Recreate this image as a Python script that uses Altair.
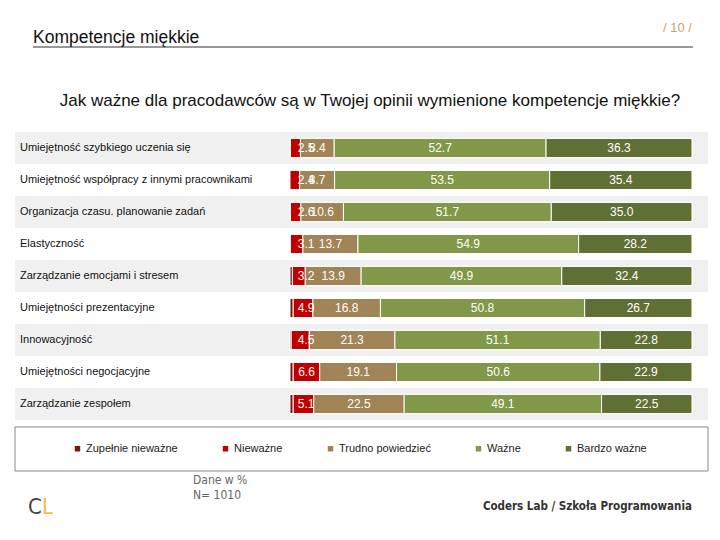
import altair as alt
import pandas as pd

categories = [
    "Umiejętność szybkiego uczenia się",
    "Umiejętność współpracy z innymi pracownikami",
    "Organizacja czasu. planowanie zadań",
    "Elastyczność",
    "Zarządzanie emocjami i stresem",
    "Umiejętności prezentacyjne",
    "Innowacyjność",
    "Umiejętności negocjacyjne",
    "Zarządzanie zespołem",
]
series = ["Zupełnie nieważne", "Nieważne", "Trudno powiedzieć", "Ważne", "Bardzo ważne"]
zupelnie = [0.1, 0.0, 0.1, 0.1, 0.6, 0.8, 0.3, 0.8, 0.8]
niewazne = [2.5, 2.4, 2.6, 3.1, 3.2, 4.9, 4.5, 6.6, 5.1]
trudno = [8.4, 8.7, 10.6, 13.7, 13.9, 16.8, 21.3, 19.1, 22.5]
wazne = [52.7, 53.5, 51.7, 54.9, 49.9, 50.8, 51.1, 50.6, 49.1]
bardzo = [36.3, 35.4, 35.0, 28.2, 32.4, 26.7, 22.8, 22.9, 22.5]
colors = ["#7D1414", "#C00000", "#A08455", "#809848", "#607034"]

values = [zupelnie, niewazne, trudno, wazne, bardzo]
rows = []
for i, cat in enumerate(categories):
    start = 0.0
    for k, name in enumerate(series):
        v = values[k][i]
        mid = start + v / 2
        if k == 1:
            mid = max(mid, 4.0)
        rows.append(dict(cat=cat, series=name, order=k, value=v, start=start,
                         end=start + v, mid=mid, label=f"{v:.1f}", show=(k > 0)))
        start += v
df = pd.DataFrame(rows)
bg = pd.DataFrame({"cat": categories[0::2]})
cat_df = pd.DataFrame({"cat": categories})

W, H = 704, 524
xscale = alt.Scale(domain=[-70.15, 104.98], range=[0, W], zero=False, nice=False)
yscale = alt.Scale(domain=categories, range=[124, 412], paddingInner=0, paddingOuter=0)
FONT = "Liberation Sans"

back = alt.Chart(bg).mark_rect(color="#F0F0F0").encode(
    y=alt.Y("cat:N", scale=yscale, axis=None),
    x=alt.value(7), x2=alt.value(700),
)

bars = alt.Chart(df).mark_bar(size=19, stroke="white", strokeWidth=1).encode(
    y=alt.Y("cat:N", scale=yscale, axis=None),
    x=alt.X("start:Q", scale=xscale, axis=None),
    x2="end:Q",
    color=alt.Color("series:N", scale=alt.Scale(domain=series, range=colors),
                    legend=alt.Legend(
                        title=None, orient="none", legendX=64, legendY=435,
                        direction="horizontal", columns=5, columnPadding=42,
                        symbolType="square", symbolSize=30, symbolStrokeWidth=0,
                        labelFont=FONT, labelFontSize=11, labelColor="#222",
                        labelOffset=3, labelLimit=200, padding=0)),
)

labels = alt.Chart(df).transform_filter("datum.show").mark_text(
    color="white", font=FONT, fontSize=12, align="center", baseline="middle"
).encode(
    y=alt.Y("cat:N", scale=yscale, axis=None),
    x=alt.X("mid:Q", scale=xscale, axis=None),
    text="label:N",
)

cat_text = alt.Chart(cat_df).mark_text(
    align="left", baseline="middle", font=FONT, fontSize=11, color="#111"
).encode(
    y=alt.Y("cat:N", scale=yscale, axis=None),
    x=alt.value(12),
    text="cat:N",
)

def txt(t, x, y, size, color, align="left", font=FONT, weight="normal"):
    return alt.Chart(pd.DataFrame({"t": [t]})).mark_text(
        align=align, baseline="middle", font=font, fontSize=size, color=color,
        fontWeight=weight
    ).encode(x=alt.value(x), y=alt.value(y), text="t:N")

header = txt("Kompetencje miękkie", 25, 30, 17.5, "#111")
page_no = txt("/ 10 /", 684, 20, 13, "#C8A468", align="right")
line = alt.Chart(pd.DataFrame({"a": [0]})).mark_rule(color="#333", strokeWidth=1).encode(
    x=alt.value(25), x2=alt.value(685), y=alt.value(39))
subtitle = txt("Jak ważne dla pracodawców są w Twojej opinii wymienione kompetencje miękkie?",
               362, 93, 17, "#111", align="center")
legend_box = alt.Chart(pd.DataFrame({"a": [0]})).mark_rect(
    fill="white", stroke="#888", strokeWidth=1).encode(
    x=alt.value(7), x2=alt.value(700), y=alt.value(419), y2=alt.value(463))
dane = txt("Dane w %", 185, 472, 12, "#666", font="DejaVu Sans Condensed")
n = txt("N= 1010", 185, 487, 12, "#666", font="DejaVu Sans Condensed")
logo_c = txt("C", 20, 499, 22, "#444", font="DejaVu Sans Condensed")
logo_l = txt("L", 34, 499, 22, "#F0C040", font="DejaVu Sans Condensed")
footer = txt("Coders Lab / Szkoła Programowania", 684, 499, 11.5, "#333", align="right",
             font="DejaVu Sans Condensed", weight="bold")

chart = alt.layer(
    back, legend_box, bars, labels, cat_text, header, page_no, line, subtitle,
    dane, n, logo_c, logo_l, footer
).properties(width=W, height=H, padding=0, autosize="none",
             background="white").configure_view(stroke=None)

chart.save("out.html", embed_options={"renderer": "svg", "actions": False})
